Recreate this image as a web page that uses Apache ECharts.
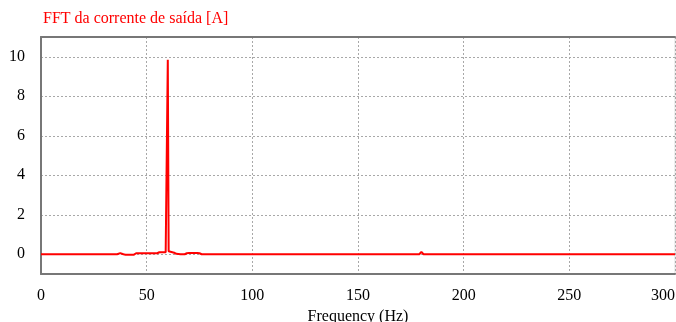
<!DOCTYPE html>
<html>
<head>
<meta charset="utf-8">
<script src="https://cdn.jsdelivr.net/npm/echarts@6/dist/echarts.min.js"></script>
<style>
  html, body { margin: 0; padding: 0; background: #fff; }
  #chart { width: 676px; height: 322px; }
</style>
</head>
<body>
<div id="chart"></div>
<script>
// Output-current spectrum: frequency (Hz) and amplitude (A)
const frequency = [0, 36, 37.5, 39, 40, 44, 45, 55, 56, 59, 59.6, 60, 60.4, 61, 63, 64, 66, 68, 69, 70, 74, 75, 76, 179, 180, 181, 300];
const amplitude = [0, 0, 0.06, 0, -0.02, -0.02, 0.05, 0.05, 0.1, 0.1, 0.15, 9.85, 0.15, 0.1, 0.08, 0.02, 0.0, 0.0, 0.05, 0.06, 0.06, 0.05, 0, 0, 0.12, 0, 0];

const xTicks = [0, 50, 100, 150, 200, 250, 300];
const yTicks = [0, 2, 4, 6, 8, 10];

const titleText = 'FFT da corrente de saída [A]';
const xName = 'Frequency (Hz)';

const points = frequency.map((f, i) => [f, amplitude[i]]);

const serif = "'Liberation Serif', 'Times New Roman', serif";
const axisGray = '#777';
const gridGray = '#a8a8a8';

const chart = echarts.init(document.getElementById('chart'), null, { renderer: 'canvas' });
chart.setOption({
  animation: false,
  backgroundColor: '#fff',
  title: {
    text: titleText,
    left: 38,
    top: 6,
    textStyle: { color: '#ff0000', fontFamily: serif, fontSize: 16, fontWeight: 'normal' }
  },
  grid: {
    left: 41, right: 1, top: 37, bottom: 48,
    containLabel: false,
    outerBoundsMode: 'none',
    show: true, borderColor: '#dcdcdc', borderWidth: 1, backgroundColor: 'transparent'
  },
  xAxis: [{
    type: 'value',
    min: 0, max: 300, interval: 50,
    name: xName,
    nameLocation: 'middle',
    nameGap: 30,
    nameTextStyle: { color: '#000', fontFamily: serif, fontSize: 16 },
    axisLine: { show: true, onZero: false, lineStyle: { color: axisGray, width: 2 } },
    axisTick: { show: false, customValues: xTicks },
    axisLabel: { customValues: xTicks, color: '#000', fontFamily: serif, fontSize: 16, margin: 14, alignMaxLabel: 'right' },
    splitLine: { show: true, lineStyle: { color: gridGray, type: [2, 2], width: 1 } }
  }, {
    type: 'value',
    position: 'top',
    min: 0, max: 300,
    axisLine: { show: true, onZero: false, lineStyle: { color: axisGray, width: 2 } },
    axisTick: { show: false },
    axisLabel: { show: false },
    splitLine: { show: false }
  }],
  yAxis: {
    type: 'value',
    min: -1, max: 11,
    axisLine: { show: true, onZero: false, lineStyle: { color: axisGray, width: 2 } },
    axisTick: { show: false, customValues: yTicks },
    axisLabel: { customValues: yTicks, color: '#000', fontFamily: serif, fontSize: 16, margin: 16, padding: [3, 0, 0, 0] },
    splitLine: { show: true, lineStyle: { color: gridGray, type: [2, 2], width: 1 } }
  },
  series: [{
    type: 'line',
    xAxisIndex: 0,
    data: points,
    showSymbol: false,
    symbol: 'none',
    lineStyle: { color: '#ff0000', width: 2 },
    z: 3
  }]
});
</script>
</body>
</html>
